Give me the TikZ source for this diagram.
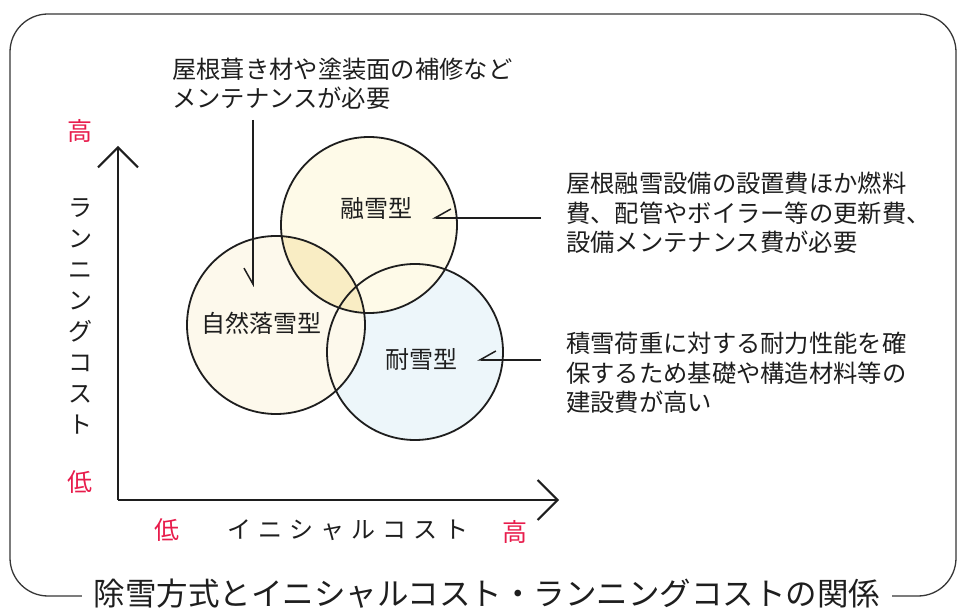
\documentclass[tikz,border=0pt]{standalone}
\usepackage{fontspec}
\setmainfont{Noto Sans CJK JP}
\usetikzlibrary{arrows.meta}
\definecolor{lowhigh}{RGB}{232,28,76}
\definecolor{creamA}{RGB}{254,250,232}
\definecolor{creamB}{RGB}{253,249,236}
\definecolor{overlapY}{RGB}{249,237,196}
\definecolor{paleblue}{RGB}{237,246,250}
\definecolor{framegray}{RGB}{55,55,55}
\definecolor{ink}{RGB}{30,30,30}
\newcommand{\charsp}{\hspace{7pt}}
\begin{document}
\begin{tikzpicture}[x=1pt,y=-1pt,
  ring/.style={circle, draw=ink, line width=1.8pt, inner sep=0pt},
  typelabel/.style={font=\fontsize{24}{28}\selectfont, text=ink, inner sep=0pt},
  note/.style={font=\fontsize{24.3}{29.5}\selectfont, text=ink, align=left, anchor=west, inner sep=0pt},
  rednote/.style={font=\fontsize{25}{25}\selectfont, text=lowhigh, inner sep=0pt},
  axislabel/.style={font=\fontsize{24}{31}\selectfont, text=ink, inner sep=0pt, align=center},
  axis/.style={draw=ink, line width=2pt, -{Straight Barb[length=20pt, width=40pt]}},
  pointer/.style={draw=ink, line width=1.5pt, -{Straight Barb[harpoon, swap, length=16pt, width=18pt]}}]
\useasboundingbox (0,0) rectangle (962,612);
\fill[white] (0,0) rectangle (962,612);
% frame
\draw[framegray, line width=1.3pt, rounded corners=38pt] (10,14) rectangle (956,596);
\node[fill=white, inner xsep=12pt, inner ysep=2pt, font=\fontsize{31.5}{31.5}\selectfont, text=ink] (title) at (487,594) {除雪方式とイニシャルコスト・ランニングコストの関係};
% circle fills
\fill[paleblue] (415,352) circle (88pt);
\fill[creamB] (276,325) circle (89pt);
\fill[creamA] (369,225) circle (88pt);
\begin{scope}
  \clip (369,225) circle (88pt);
  \fill[overlapY] (276,325) circle (89pt);
\end{scope}
% circle outlines
\node[ring, minimum size=176pt] (taisetsuC) at (415,352) {};
\node[ring, minimum size=178pt] (shizenC) at (276,325) {};
\node[ring, minimum size=176pt] (yusetsuC) at (369,225) {};
% type labels
\node[typelabel] (yusetsu) at (376,208) {融雪型};
\node[typelabel] (shizen) at (261,323) {自然落雪型};
\node[typelabel] (taisetsu) at (421,359) {耐雪型};
% axes
\coordinate (origin) at (118,500);
\coordinate (ytip) at (118,146);
\coordinate (xtip) at (559,500);
\draw[axis] (origin) -- (ytip);
\draw[axis] (origin) -- (xtip);
\node[rednote] (yhigh) at (80,131) {高};
\node[rednote] (ylow) at (80,482) {低};
\node[rednote] (xlow) at (167,530) {低};
\node[rednote] (xhigh) at (515,532) {高};
\node[axislabel] (ylabel) at (80,316) {ラ\\ン\\ニ\\ン\\グ\\コ\\ス\\ト};
\node[axislabel] (xlabel) at (348,530) {イ\charsp ニ\charsp シ\charsp ャ\charsp ル\charsp コ\charsp ス\charsp ト};
% notes
\node[note] (noteTop) at (172,84) {屋根葺き材や塗装面の補修など\\メンテナンスが必要};
\node[note] (noteYu) at (566,213) {屋根融雪設備の設置費ほか燃料\\費、配管やボイラー等の更新費、\\設備メンテナンス費が必要};
\node[note] (noteTai) at (566,373) {積雪荷重に対する耐力性能を確\\保するため基礎や構造材料等の\\建設費が高い};
% pointers
\coordinate (p1s) at (253,120);
\coordinate (p1e) at (253,287);
\coordinate (p2s) at (541,218);
\coordinate (p2e) at (432,218);
\coordinate (p3s) at (541,360);
\coordinate (p3e) at (477,360);
\draw[pointer] (p1s) -- (p1e);
\draw[pointer] (p2s) -- (p2e);
\draw[pointer] (p3s) -- (p3e);
\end{tikzpicture}
\end{document}
